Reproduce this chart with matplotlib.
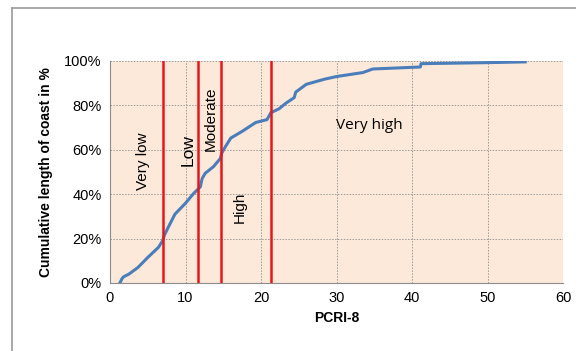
import numpy as np
import matplotlib.pyplot as plt
from matplotlib.lines import Line2D
from matplotlib.ticker import PercentFormatter

plt.rcParams['font.family'] = ['Liberation Sans', 'DejaVu Sans']

# cumulative curve (PCRI-8, % of coast length)
pcri = [1.3, 1.6, 1.8, 2.5, 3.7, 5.0, 6.4, 6.97, 7.2, 7.7, 8.6, 9.96, 11.07, 11.96,
        12.2, 12.6, 13.7, 14.6, 14.8, 15.3, 16.0, 17.5, 19.3, 20.8, 21.3, 22.4,
        23.3, 24.4, 24.6, 26.0, 28.4, 30.0, 33.5, 34.8, 41.1, 41.2, 49.0, 55.0]
cum_pct = [0, 2.0, 2.8, 4.0, 7.0, 11.5, 16.0, 19.0, 21.5, 25.0, 31.0, 35.8, 40.3,
           43.3, 47.0, 49.4, 52.4, 56.0, 58.5, 61.5, 65.3, 68.3, 72.3, 73.6, 76.7,
           78.5, 81.0, 83.5, 86.0, 89.5, 91.8, 93.0, 94.8, 96.4, 97.3, 98.8, 99.2,
           99.6]

# class thresholds
limits = [7.0, 11.6, 14.7, 21.3]

fig = plt.figure(figsize=(5.76, 3.51), dpi=100)
ax = fig.add_axes([110/576, 1-283/351, 453/576, 222/351])
ax.set_facecolor('#fde9d9')

ax.plot(pcri, cum_pct, color='#4a7ebb', lw=2.2, zorder=3)
for x in limits:
    ax.plot([x, x], [0.5, 100], color='#e8161b', lw=1.8, zorder=4)

ax.set_xlim(0, 60)
ax.set_ylim(0, 100)
ax.set_xticks(range(0, 61, 10))
ax.set_yticks(range(0, 101, 20))
ax.yaxis.set_major_formatter(PercentFormatter(decimals=0))
ax.grid(True, color='#9a9a9a', ls=(0, (1.5, 1.5)), lw=0.7)
ax.tick_params(length=0, labelsize=10.5, pad=6)
for s in ['top', 'right']:
    ax.spines[s].set_visible(False)
for s in ['left', 'bottom']:
    ax.spines[s].set_color('#8c8c8c')
ax.set_axisbelow(True)

ax.set_xlabel('PCRI-8', fontweight='bold', fontsize=10, labelpad=4)
ax.set_ylabel('Cumulative length of coast in %', fontweight='bold', fontsize=10, labelpad=8)

ax.text(4.4, 55, 'Very low', rotation=90, fontsize=11, ha='center', va='center')
ax.text(10.3, 60, 'Low', rotation=90, fontsize=12.5, ha='center', va='center')
ax.text(13.3, 74, 'Moderate', rotation=90, fontsize=11, ha='center', va='center')
ax.text(17.2, 34, 'High', rotation=90, fontsize=11, ha='center', va='center')
ax.text(30, 71, 'Very high', fontsize=11, ha='left', va='center',
        family=['Open Sans', 'DejaVu Sans'])

# outer frame lines
fig.add_artist(Line2D([12/576, 12/576], [0, 1-8/351], color='#9a9a9a', lw=1.2))
fig.add_artist(Line2D([12/576, 1], [1-8/351, 1-8/351], color='#9a9a9a', lw=1.2))

fig.savefig('out.png', dpi=100)
